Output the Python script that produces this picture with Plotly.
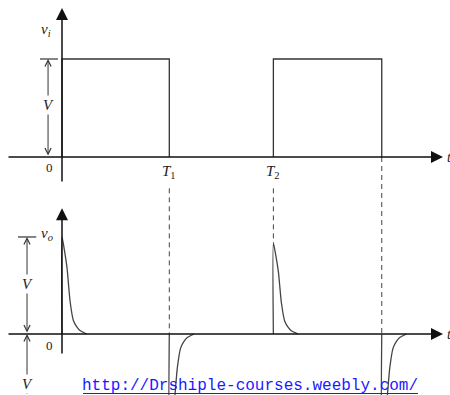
import plotly.graph_objects as go

# ---------------- data (time in units of T1, voltage in units of V) ----------------
edge_times = [0.0, 1.0, 1.97, 2.98]          # 0, T1, T2, T3
pulse_starts = [0.0, 1.97]
pulse_ends = [1.0, 2.98]
V = 1.0
vo_peaks = [0.98, -1.0, 0.92, -1.0]          # spike amplitude at each edge
decay_dt = [0.0, 0.02, 0.047, 0.075, 0.106, 0.14, 0.168, 0.23]
decay_shape = [1.0, 0.88, 0.68, 0.34, 0.14, 0.07, 0.035, 0.0]
t_labels = ["<i>T</i><sub>1</sub>", "<i>T</i><sub>2</sub>"]
t_label_pos = [1.0, 1.97]
url_text = "http://Drshiple-courses.weebly.com/"

# ---------------- scales ----------------
W, H = 450, 395
PX_T0, PX_PER_T = 62.0, 107.3
TOP_ZERO_PX, TOP_PX_PER_V = 157.0, 98.0
BOT_ZERO_PX, BOT_PX_PER_V = 334.0, 99.0
x_range = [-PX_T0 / PX_PER_T, (W - PX_T0) / PX_PER_T]
y_range = [(TOP_ZERO_PX - H) / TOP_PX_PER_V, TOP_ZERO_PX / TOP_PX_PER_V]
y2_range = [(BOT_ZERO_PX - H) / BOT_PX_PER_V, BOT_ZERO_PX / BOT_PX_PER_V]


def top_to_bot(v):
    px = TOP_ZERO_PX - v * TOP_PX_PER_V
    return (BOT_ZERO_PX - px) / BOT_PX_PER_V


LINE = "#333333"
fig = go.Figure()

# input square wave
xs, ys = [], []
for s, e in zip(pulse_starts, pulse_ends):
    xs += [s, s, e, e, None]
    ys += [0, V, V, 0, None]
fig.add_trace(go.Scatter(x=xs, y=ys, mode="lines", line=dict(color=LINE, width=1.3),
                         hoverinfo="skip"))

# output spikes
xs, ys = [], []
for t, p in zip(edge_times, vo_peaks):
    xs += [t]
    ys += [0]
    for dt, f in zip(decay_dt, decay_shape):
        xs.append(t + dt)
        ys.append(p * f)
    xs.append(None)
    ys.append(None)
fig.add_trace(go.Scatter(x=xs, y=ys, yaxis="y2", mode="lines",
                         line=dict(color="#444444", width=1.3, shape="spline", smoothing=0.6),
                         hoverinfo="skip"))

# dashed guide lines
dash_from_top = -0.32
dash_x, dash_y = [], []
dash_x += [edge_times[1], edge_times[1], None]
dash_y += [top_to_bot(dash_from_top), 0, None]
dash_x += [edge_times[2], edge_times[2], None]
dash_y += [top_to_bot(dash_from_top), vo_peaks[2], None]
dash_x += [edge_times[3], edge_times[3], None]
dash_y += [top_to_bot(0), 0, None]
fig.add_trace(go.Scatter(x=dash_x, y=dash_y, yaxis="y2", mode="lines",
                         line=dict(color="#444444", width=1, dash="5px,4px"),
                         hoverinfo="skip"))

ann = []


def axis_arrow(x0, y0, x1, y1, yref):
    ann.append(dict(x=x1, y=y1, ax=x0, ay=y0, xref="x", yref=yref, axref="x", ayref=yref,
                    text="", showarrow=True, arrowhead=2, arrowsize=1.6, arrowwidth=1.5,
                    arrowcolor="#111111", standoff=0))


x_left, x_tip = (7 - PX_T0) / PX_PER_T, (443 - PX_T0) / PX_PER_T
axis_arrow(x_left, 0, x_tip, 0, "y")
axis_arrow(0, -0.265, 0, 1.52, "y")
axis_arrow(x_left, 0, x_tip, 0, "y2")
axis_arrow(0, -0.212, 0, 1.27, "y2")


def dim_arrow(x, y0, y1, yref, both=True):
    ann.append(dict(x=x, y=y1, ax=x, ay=y0, xref="x", yref=yref, axref="x", ayref=yref,
                    text="", showarrow=True, arrowhead=5, arrowsize=1.2, arrowwidth=1,
                    startarrowhead=5, startarrowsize=1.2,
                    arrowside="end+start" if both else "end",
                    arrowcolor=LINE, standoff=0, startstandoff=0))


dim_arrow(-0.13, 0, V, "y")
dim_arrow(-0.326, 0, vo_peaks[0], "y2")
dim_arrow(-0.326, -0.62, 0, "y2", both=False)

shapes = [
    dict(type="line", xref="x", yref="y", x0=-0.205, x1=-0.037, y0=V, y1=V,
         line=dict(color=LINE, width=1.2)),
    dict(type="line", xref="x", yref="y2", x0=-0.41, x1=-0.24, y0=vo_peaks[0], y1=vo_peaks[0],
         line=dict(color=LINE, width=1.2)),
    dict(type="line", xref="paper", yref="paper", x0=83 / W, x1=418 / W,
         y0=1 - 393.5 / H, y1=1 - 393.5 / H, line=dict(color="#1a1aff", width=1.2)),
]

SERIF = "Liberation Serif, Times New Roman, serif"


def label(text, x, y, yref, size=14, bg=None, xanchor="center"):
    d = dict(text=text, x=x, y=y, xref="x", yref=yref, showarrow=False,
             font=dict(family=SERIF, size=size, color="#222222"), xanchor=xanchor, yanchor="middle")
    if bg:
        d["bgcolor"] = bg
        d["borderpad"] = 1
    ann.append(d)


label("<i>v<sub>i</sub></i>", -0.15, 1.3, "y", size=15)
label("<i>V</i>", -0.13, 0.53, "y", size=15, bg="white")
label("0", -0.12, -0.11, "y", size=13)
label(t_labels[0], t_label_pos[0], -0.15, "y", size=15)
label(t_labels[1], t_label_pos[1], -0.15, "y", size=15)
label("<i>t</i>", x_tip + 0.02, 0, "y", size=14, xanchor="left")
label("<i>v<sub>o</sub></i>", -0.14, 1.01, "y2", size=15)
label("<i>V</i>", -0.326, 0.505, "y2", size=15, bg="white")
label("<i>V</i>", -0.326, -0.5, "y2", size=15, bg="white")
label("0", -0.12, -0.12, "y2", size=13)
label("<i>t</i>", x_tip + 0.02, 0, "y2", size=14, xanchor="left")

ann.append(dict(text=url_text, x=250 / W, y=1 - 385.5 / H, xref="paper", yref="paper",
                showarrow=False, font=dict(family="Liberation Mono", size=16, color="#1a1aff"),
                xanchor="center", yanchor="middle"))

fig.update_layout(
    width=W, height=H, margin=dict(l=0, r=0, t=0, b=0), autosize=False,
    paper_bgcolor="white", plot_bgcolor="white", showlegend=False,
    xaxis=dict(range=x_range, visible=False, fixedrange=True),
    yaxis=dict(range=y_range, visible=False, fixedrange=True),
    yaxis2=dict(range=y2_range, visible=False, overlaying="y", fixedrange=True),
    annotations=ann, shapes=shapes,
)

fig.write_html("out.html", config={"displayModeBar": False})
